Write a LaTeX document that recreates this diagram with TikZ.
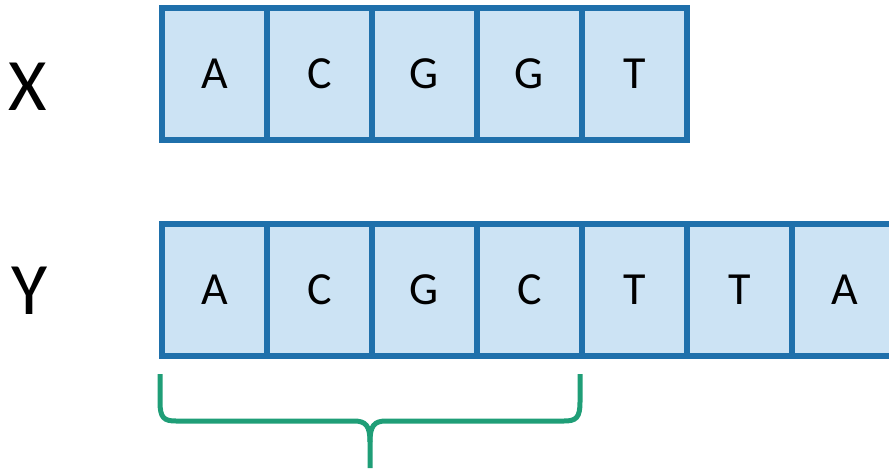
\documentclass[tikz,border=0pt]{standalone}
\usepackage{fontspec}
\setmainfont{Carlito}
\definecolor{cellline}{RGB}{31,112,171}
\definecolor{cellfill}{RGB}{204,227,244}
\definecolor{bracecol}{RGB}{31,158,119}
\begin{document}
\begin{tikzpicture}[x=1pt,y=-1pt,
  cell/.style={draw=cellline,fill=cellfill,line width=6pt,minimum width=105pt,minimum height=132pt,inner sep=0pt,outer sep=0pt,font=\fontsize{46}{50}\selectfont,text=black},
  rowlabel/.style={font=\fontsize{74}{80}\selectfont,text=black,inner sep=0pt},
  bracestyle/.style={draw=bracecol,line width=5pt,line cap=butt,line join=round}]
\useasboundingbox (0,0) rectangle (889,469);
\clip (0,0) rectangle (889,469);
\node[rowlabel] (lx) at (28,87) {X};
\node[rowlabel] (ly) at (30,291) {Y};
\foreach \t [count=\i from 0] in {A,C,G,G,T}
  \node[cell] (x\i) at (214.5+105*\i,74) {\raisebox{-3pt}{\t}};
\foreach \t [count=\i from 0] in {A,C,G,C,T,T,A}
  \node[cell] (y\i) at (214.5+105*\i,290) {\raisebox{-3pt}{\t}};
\coordinate (bl) at (160,374);
\coordinate (br) at (580,374);
\coordinate (bt) at (370,468);
\draw[bracestyle] (bl) -- (160,402) .. controls (160,418) and (164,421) .. (176,421)
  -- (354,421) .. controls (366,421) and (370,426) .. (370,442) -- (bt);
\draw[bracestyle] (br) -- (580,402) .. controls (580,418) and (576,421) .. (564,421)
  -- (386,421) .. controls (374,421) and (370,426) .. (370,442);
\end{tikzpicture}
\end{document}
